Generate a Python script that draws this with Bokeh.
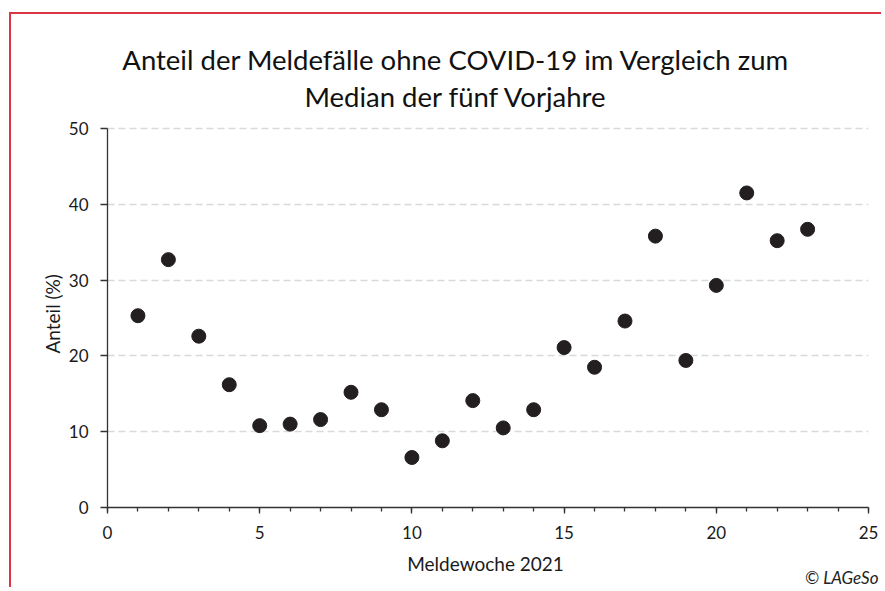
from bokeh.plotting import figure
from bokeh.models import Range1d, SingleIntervalTicker, FixedTicker, Title, Label
from bokeh.embed import file_html
from bokeh.resources import INLINE

# Data
weeks = list(range(1, 24))
share = [25.3, 32.7, 22.6, 16.2, 10.8, 11.0, 11.6, 15.2, 12.9, 6.6, 8.8, 14.1,
         10.5, 12.9, 21.1, 18.5, 24.6, 35.8, 19.4, 29.3, 41.5, 35.2, 36.7]
y_ticks = [0, 10, 20, 30, 40, 50]
title_lines = ["Anteil der Meldefälle ohne COVID-19 im Vergleich zum",
               "Median der fünf Vorjahre"]
x_label = "Meldewoche  2021"
y_label = "Anteil  (%)"
credit = "© LAGeSo"

FONT = "Lato"
RED = "#dc3545"

# Layout (pixels on the canvas)
W, H = 872, 575
B_LEFT, B_RIGHT, B_TOP, B_BOTTOM = 96, 15, 6, 82
frame_h = H - B_TOP - B_BOTTOM
axis_h = 379  # pixel height of the 0..50 scale
y_top = y_ticks[-1] * frame_h / axis_h  # extra room above for the title

p = figure(width=W, height=H, output_backend="svg", toolbar_location=None,
           x_range=Range1d(0, 25), y_range=Range1d(0, y_top),
           min_border_left=B_LEFT, min_border_right=B_RIGHT,
           min_border_top=B_TOP, min_border_bottom=B_BOTTOM,
           styles={"margin-top": "12px", "margin-left": "9px",
                   "border-top": f"2px solid {RED}",
                   "border-left": f"2px solid {RED}"})
p.outline_line_color = None
p.background_fill_color = "white"
p.border_fill_color = "white"

p.scatter(weeks, share, size=14, fill_color="#231f20", line_color="#231f20")

# Axes
p.xaxis.ticker = SingleIntervalTicker(interval=5, num_minor_ticks=5)
p.yaxis.ticker = FixedTicker(ticks=y_ticks)
p.yaxis.bounds = (y_ticks[0], y_ticks[-1])
for ax in (p.xaxis, p.yaxis):
    ax.axis_line_color = "#333333"
    ax.axis_line_width = 1.3
    ax.major_tick_line_color = "#333333"
    ax.major_tick_line_width = 1.3
    ax.minor_tick_line_color = "#333333"
    ax.minor_tick_line_width = 1.3
    ax.major_tick_in = 0
    ax.minor_tick_in = 0
    ax.major_label_text_font = FONT
    ax.major_label_text_font_size = "17px"
    ax.major_label_text_color = "#1a1a1a"
p.xaxis.major_tick_out = 6
p.xaxis.minor_tick_out = 4
p.yaxis.major_tick_out = 7
p.yaxis.minor_tick_out = 0
p.xaxis.major_label_standoff = 12
p.yaxis.major_label_standoff = 12
p.xaxis.axis_label = x_label
p.xaxis.axis_label_standoff = 10
p.xaxis.axis_label_text_font = FONT
p.xaxis.axis_label_text_font_size = "19px"
p.xaxis.axis_label_text_font_style = "normal"
p.xaxis.axis_label_text_color = "#1a1a1a"

# y-axis title, centred on the 0..50 part of the axis
p.add_layout(Title(text=y_label, align="left", offset=154, standoff=4,
                   text_font=FONT, text_font_size="19px",
                   text_font_style="normal", text_color="#1a1a1a"), "left")

p.xgrid.grid_line_color = None
p.ygrid.grid_line_color = "#d9d9d9"
p.ygrid.grid_line_width = 1.3
p.ygrid.grid_line_dash = "7 4"

# Title lines (screen units, measured from the frame's bottom-left corner)
p.add_layout(Label(x=348.5, y=448, x_units="screen", y_units="screen",
                   text=title_lines[0], text_align="center",
                   text_baseline="alphabetic", text_font=FONT,
                   text_font_size="27.5px", text_color="#111111"))
p.add_layout(Label(x=348.5, y=411, x_units="screen", y_units="screen",
                   text=title_lines[1], text_align="center",
                   text_baseline="alphabetic", text_font=FONT,
                   text_font_size="27.5px", text_color="#111111"))
# Credit
p.add_layout(Title(text=credit, align="right", offset=-10, standoff=-22,
                   vertical_align="top",
                   text_font=FONT, text_font_style="italic",
                   text_font_size="17px", text_color="#222222"), "below")

open("out.html", "w").write(file_html(p, INLINE))
